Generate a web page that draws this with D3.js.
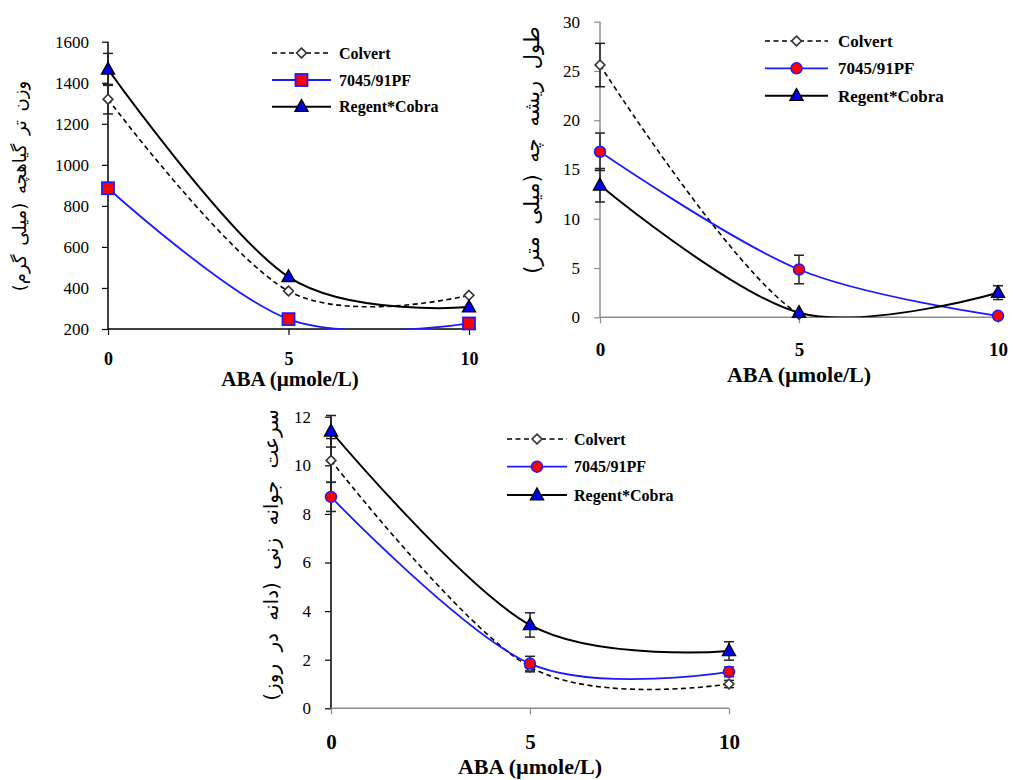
<!DOCTYPE html>
<html lang="en">
<head>
    <meta charset="UTF-8">
    <title>ABA effect on seedlings</title>
    <style>
        body, html {
            margin: 0;
            background: #fff;
            overflow: hidden;
        }
    </style>
</head>
<body>

<script src="https://d3js.org/d3.v7.min.js"></script>

<script>
    // ABA concentrations (x axis)
    const abaLevels = [0, 5, 10];
    const seriesNames = ["Colvert", "7045/91PF", "Regent*Cobra"];

    // Panel 1 - seedling fresh weight (mg)
    const freshColvert = [1320, 385, 364];
    const freshLine    = [886, 248, 227];
    const freshRegent  = [1465, 454, 307];
    const freshErrColvert = [72, 0, 0];
    const freshErrLine    = [0, 0, 0];
    const freshErrRegent  = [78, 0, 0];
    const freshTicks = [200, 400, 600, 800, 1000, 1200, 1400, 1600];

    // Panel 2 - plumule length (mm)
    const plumColvert = [25.6, 0.3, 0.1];
    const plumLine    = [16.8, 4.85, 0.15];
    const plumRegent  = [13.4, 0.47, 2.5];
    const plumErrColvert = [2.2, 0, 0];
    const plumErrLine    = [1.9, 1.45, 0];
    const plumErrRegent  = [1.7, 0, 0.7];
    const plumTicks = [0, 5, 10, 15, 20, 25, 30];

    // Panel 3 - germination rate (seed/day)
    const germColvert = [10.2, 1.7, 1.0];
    const germLine    = [8.7, 1.84, 1.5];
    const germRegent  = [11.4, 3.43, 2.36];
    const germErrColvert = [0.9, 0.2, 0.15];
    const germErrLine    = [0.6, 0.3, 0.2];
    const germErrRegent  = [0.65, 0.5, 0.38];
    const germTicks = [0, 2, 4, 6, 8, 10, 12];

    const width = 1013, height = 780;
    const svg = d3.select("body").append("svg")
        .attr("width", width)
        .attr("height", height);

    const serif = "'Liberation Serif', 'Times New Roman', serif";

    // draw one marker at (0,0)
    function marker(g, kind, size) {
        if (kind === "diamond") {
            g.append("path")
                .attr("d", d3.symbol(d3.symbolDiamond2, size * size * 0.5)())
                .attr("fill", "#fff").attr("stroke", "#333").attr("stroke-width", 1.6);
        } else if (kind === "square") {
            g.append("rect")
                .attr("x", -size / 2).attr("y", -size / 2)
                .attr("width", size).attr("height", size)
                .attr("fill", "#ff0000").attr("stroke", "#1a1aff").attr("stroke-width", 1.8);
        } else if (kind === "circle") {
            g.append("circle").attr("r", size / 2)
                .attr("fill", "#ff0000").attr("stroke", "#1a1aff").attr("stroke-width", 1.5);
        } else {
            const h = size * 0.9;
            g.append("path")
                .attr("d", `M0,${-h * 0.6}L${size / 2},${h * 0.4}L${-size / 2},${h * 0.4}Z`)
                .attr("fill", "#0000ee").attr("stroke", "#000").attr("stroke-width", 1.4);
        }
    }

    function drawPanel(p) {
        const x = d3.scaleLinear().domain([0, 10]).range(p.xr);
        const y = d3.scaleLinear().domain(p.yd).range(p.yr);
        const g = svg.append("g");

        const clipId = "clip" + p.id;
        g.append("clipPath").attr("id", clipId)
            .append("rect")
            .attr("x", p.xr[0]).attr("y", p.yr[1])
            .attr("width", p.xr[1] - p.xr[0] + 20)
            .attr("height", p.yr[0] - p.yr[1]);

        // y axis
        const yAxis = g.append("g")
            .attr("transform", `translate(${p.xr[0]},0)`)
            .call(d3.axisLeft(y).tickValues(p.yTicks).tickFormat(d3.format("d"))
                .tickSize(6).tickSizeOuter(0));
        yAxis.select(".domain").attr("stroke", p.yAxisColor).attr("stroke-width", 1.5)
            .attr("d", `M0,${p.yr[0]}V${p.yr[1]}`);
        yAxis.selectAll(".tick line").attr("stroke", p.yAxisColor).attr("stroke-width", 1.2);
        yAxis.selectAll(".tick text")
            .attr("x", -(p.xr[0] - p.yLabelRight))
            .attr("fill", "#000")
            .style("font-family", serif)
            .style("font-size", p.yTickSize + "px");

        // x axis
        const xAxis = g.append("g")
            .attr("transform", `translate(0,${p.yr[0]})`)
            .call(d3.axisBottom(x).tickValues(abaLevels).tickSize(6).tickSizeOuter(0));
        xAxis.select(".domain").attr("stroke", p.xAxisColor).attr("stroke-width", 1.5)
            .attr("d", `M${p.xr[0]},0H${p.xr[1]}`);
        xAxis.selectAll(".tick line").attr("stroke", p.xAxisColor).attr("stroke-width", 1.2);
        xAxis.selectAll(".tick text")
            .attr("y", p.xTickBase - p.yr[0])
            .attr("dy", 0)
            .attr("fill", "#000")
            .style("font-family", serif)
            .style("font-weight", "bold")
            .style("font-size", p.xTickSize + "px");

        // axis titles
        g.append("text")
            .attr("x", p.titleX).attr("y", p.titleY)
            .attr("text-anchor", "middle")
            .style("font-family", serif)
            .style("font-weight", "bold")
            .style("font-size", p.titleSize + "px")
            .text("ABA (µmole/L)");

        g.append("text")
            .attr("transform", `translate(${p.ylabX},${p.ylabY}) rotate(-90)`)
            .attr("text-anchor", "middle")
            .attr("direction", "rtl")
            .style("font-family", "'DejaVu Sans', sans-serif")
            .style("font-size", p.ylabSize + "px")
            .style("word-spacing", p.ylabGap + "px")
            .text(p.ylab);

        const line = d3.line()
            .x((d, i) => x(abaLevels[i]))
            .y(d => y(d))
            .curve(d3.curveCardinal.tension(0));

        const series = [
            { vals: p.colvert, err: p.errColvert, color: "#000", width: 1.6, dash: "5,3.5", mk: "diamond", ms: 11 },
            { vals: p.line, err: p.errLine, color: "#1a1aff", width: 1.8, dash: null, mk: p.lineMarker, ms: p.lineMarker === "square" ? 12 : 11 },
            { vals: p.regent, err: p.errRegent, color: "#000", width: 2, dash: null, mk: "triangle", ms: 13 }
        ];

        // curves
        series.forEach(s => {
            g.append("path")
                .datum(s.vals)
                .attr("clip-path", `url(#${clipId})`)
                .attr("fill", "none")
                .attr("stroke", s.color)
                .attr("stroke-width", s.width)
                .attr("stroke-dasharray", s.dash)
                .attr("d", line);
        });

        // error bars
        series.forEach(s => {
            s.vals.forEach((v, i) => {
                const e = s.err[i];
                if (!e) return;
                const cx = x(abaLevels[i]);
                const eg = g.append("g").attr("stroke", "#222").attr("stroke-width", 1.5);
                eg.append("line").attr("x1", cx).attr("x2", cx).attr("y1", y(v - e)).attr("y2", y(v + e));
                [v - e, v + e].forEach(t => {
                    eg.append("line").attr("x1", cx - 5).attr("x2", cx + 5).attr("y1", y(t)).attr("y2", y(t));
                });
            });
        });

        // markers
        series.forEach(s => {
            s.vals.forEach((v, i) => {
                const mg = g.append("g").attr("transform", `translate(${x(abaLevels[i])},${y(v)})`);
                marker(mg, s.mk, s.ms);
            });
        });

        // legend
        series.forEach((s, i) => {
            const ly = p.legY[i];
            g.append("line")
                .attr("x1", p.legX[0]).attr("x2", p.legX[1])
                .attr("y1", ly).attr("y2", ly)
                .attr("stroke", s.color)
                .attr("stroke-width", s.width)
                .attr("stroke-dasharray", s.dash);
            const mg = g.append("g").attr("transform", `translate(${(p.legX[0] + p.legX[1]) / 2},${ly})`);
            marker(mg, s.mk, s.ms);
            g.append("text")
                .attr("x", p.legText).attr("y", ly)
                .attr("dy", "0.35em")
                .style("font-family", serif)
                .style("font-weight", "bold")
                .style("font-size", p.legSize + "px")
                .text(seriesNames[i]);
        });
    }

    drawPanel({
        id: 1,
        xr: [108, 469], yd: [200, 1600], yr: [329, 41.7], yTicks: freshTicks,
        colvert: freshColvert, line: freshLine, regent: freshRegent,
        errColvert: freshErrColvert, errLine: freshErrLine, errRegent: freshErrRegent,
        lineMarker: "square",
        yAxisColor: "#000", xAxisColor: "#000",
        yLabelRight: 89, yTickSize: 17,
        xTickBase: 365, xTickSize: 18,
        titleX: 290, titleY: 386, titleSize: 21,
        ylab: "وزن تر گیاهچه (میلی گرم)", ylabX: 26, ylabY: 186, ylabSize: 18, ylabGap: 3,
        legX: [272, 331], legText: 339, legY: [53, 80, 106.7], legSize: 16
    });

    drawPanel({
        id: 2,
        xr: [600, 998], yd: [0, 30], yr: [317.3, 21.7], yTicks: plumTicks,
        colvert: plumColvert, line: plumLine, regent: plumRegent,
        errColvert: plumErrColvert, errLine: plumErrLine, errRegent: plumErrRegent,
        lineMarker: "circle",
        yAxisColor: "#8c8c8c", xAxisColor: "#8c8c8c",
        yLabelRight: 580, yTickSize: 17,
        xTickBase: 356, xTickSize: 19,
        titleX: 799, titleY: 382, titleSize: 22,
        ylab: "طول ریشه چه (میلی متر)", ylabX: 539, ylabY: 150, ylabSize: 21, ylabGap: 5,
        legX: [765, 828], legText: 838, legY: [41, 68.3, 95.7], legSize: 17
    });

    drawPanel({
        id: 3,
        xr: [331, 729], yd: [0, 12], yr: [708.3, 416.7], yTicks: germTicks,
        colvert: germColvert, line: germLine, regent: germRegent,
        errColvert: germErrColvert, errLine: germErrLine, errRegent: germErrRegent,
        lineMarker: "circle",
        yAxisColor: "#000", xAxisColor: "#8c8c8c",
        yLabelRight: 311, yTickSize: 17,
        xTickBase: 749, xTickSize: 21,
        titleX: 530, titleY: 774, titleSize: 22,
        ylab: "سرعت جوانه زنی (دانه در روز)", ylabX: 278, ylabY: 555, ylabSize: 20, ylabGap: 6,
        legX: [507, 567], legText: 574, legY: [439, 466.7, 495], legSize: 16
    });
</script>

</body>
</html>
